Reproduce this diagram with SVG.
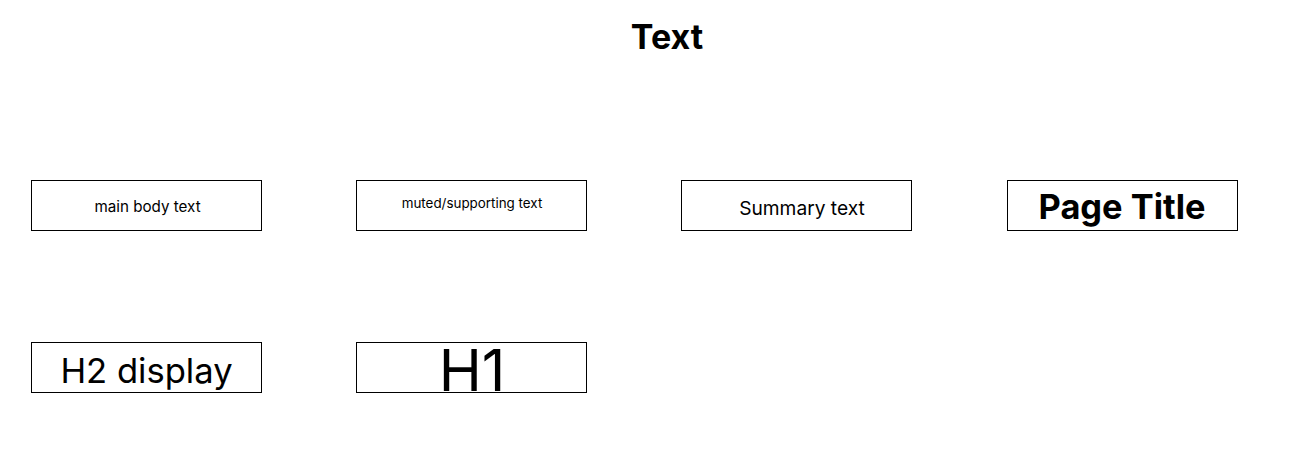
<svg xmlns="http://www.w3.org/2000/svg" width="1300" height="456" viewBox="0 0 1300 456">
<style>
.box{fill:#fff;stroke:#000;stroke-width:1}
text{font-family:Inter,"Liberation Sans",sans-serif;fill:#000;text-anchor:middle}
</style>
<rect width="1300" height="456" fill="#fff"/>
<text x="667" y="49" font-size="34" font-weight="bold">Text</text>
<g id="connectors"></g>
<g id="node-main-body">
<rect class="box" x="31.500" y="180.500" width="230" height="50"/>
<text x="147.500" y="212" font-size="15.2">main body text</text>
</g>
<g id="node-muted">
<rect class="box" x="356.500" y="180.500" width="230" height="50"/>
<text x="472" y="208" font-size="13.4">muted/supporting text</text>
</g>
<g id="node-summary">
<rect class="box" x="681.500" y="180.500" width="230" height="50"/>
<text x="802" y="215" font-size="19.2">Summary text</text>
</g>
<g id="node-page-title">
<rect class="box" x="1007.500" y="180.500" width="230" height="50"/>
<text x="1122" y="219" font-size="34.4" font-weight="bold">Page Title</text>
</g>
<g id="node-h2">
<rect class="box" x="31.500" y="342.500" width="230" height="50"/>
<text x="146.500" y="383" font-size="34.6">H2 display</text>
</g>
<g id="node-h1">
<rect class="box" x="356.500" y="342.500" width="230" height="50"/>
<text x="472" y="391" font-size="58">H1</text>
</g>
</svg>
